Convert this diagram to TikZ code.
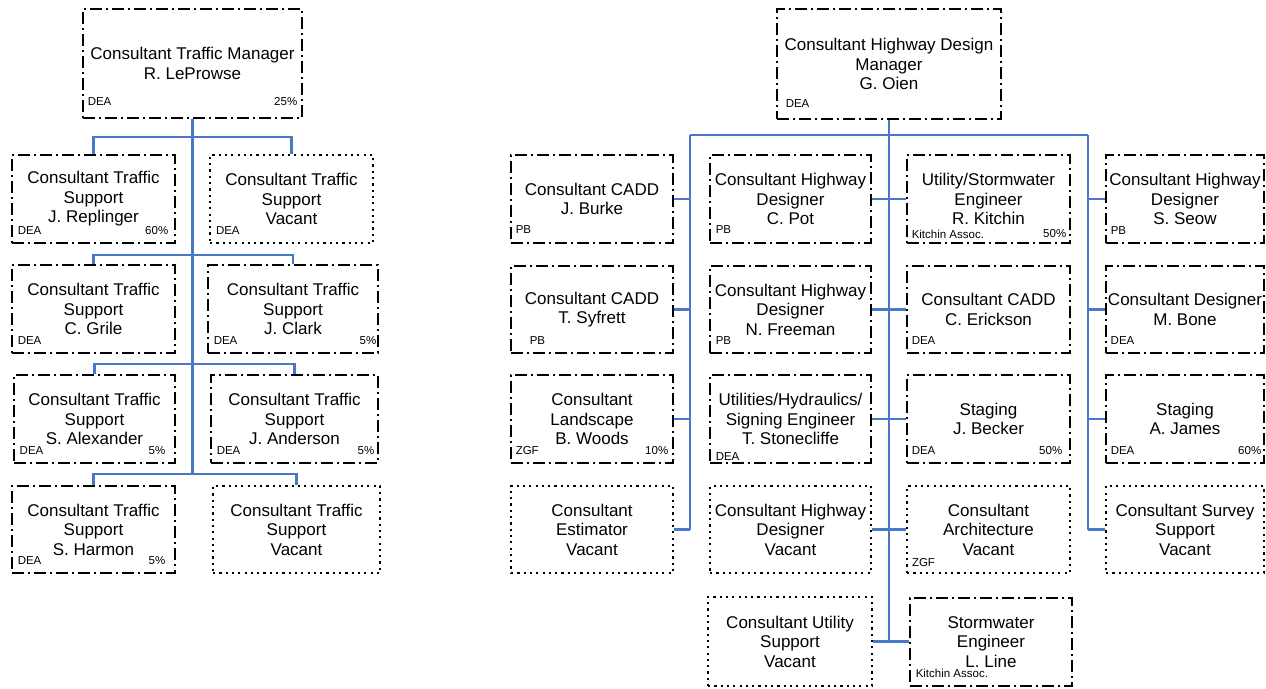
\documentclass[tikz,border=0pt]{standalone}
\usepackage{fontspec}
\setmainfont{Liberation Sans}
\usetikzlibrary{calc}
\definecolor{linkblue}{HTML}{4A78C8}

% box: style, name, x1, y1, x2, y2, text  (y grows downwards)
\newcommand\orgbox[7]{\node[#1, minimum width={(#5-#3)*1pt}, minimum height={(#6-#4)*1pt}] (#2) at ({(#3+#5)/2},{(#4+#6)/2}) {#7};}
% small company / share tags in the lower corners: box, inset, height, text
\newcommand\tagleft[4]{\node[tag, anchor=west] (#1-l) at ($(#1.south west)+(#2,-#3)$) {#4};}
\newcommand\tagright[4]{\node[tag, anchor=east] (#1-r) at ($(#1.south east)+(-#2,-#3)$) {#4};}

\begin{document}
\begin{tikzpicture}[x=1pt,y=-1pt,
  post/.style={draw=black, line width=2.9pt, dash pattern=on 12pt off 4pt on 2pt off 4pt,
    align=center, inner sep=2pt, font=\fontsize{17}{19.5}\selectfont},
  vacant/.style={post, line width=2.4pt, dash pattern=on 2.2pt off 4.1pt},
  conn/.style={draw=linkblue, line width=2.8pt},
  tag/.style={inner sep=0pt, text height=8.2pt, text depth=0pt, font=\fontsize{11.5}{13}\selectfont}
]
\useasboundingbox (0,0) rectangle (1266,688);

% ---------------- traffic team ----------------
\orgbox{post}{LM}{83}{9}{302}{118}{Consultant Traffic Manager\\R. LeProwse}
\orgbox{post}{L1a}{12}{155}{175}{243}{Consultant Traffic\\Support\\J. Replinger}
\orgbox{vacant}{L1b}{210}{155}{373}{243}{Consultant Traffic\\Support\\Vacant}
\orgbox{post}{L2a}{12}{265}{175}{353}{Consultant Traffic\\Support\\C. Grile}
\orgbox{post}{L2b}{208}{265}{378}{353}{Consultant Traffic\\Support\\J. Clark}
\orgbox{post}{L3a}{14}{375}{175}{463}{Consultant Traffic\\Support\\S. Alexander}
\orgbox{post}{L3b}{211}{375}{378}{463}{Consultant Traffic\\Support\\J. Anderson}
\orgbox{post}{L4a}{12}{486}{175}{573}{Consultant Traffic\\Support\\S. Harmon}
\orgbox{vacant}{L4b}{213}{486}{380}{573}{Consultant Traffic\\Support\\Vacant}

\tagleft{LM}{6}{18}{DEA}\tagright{LM}{6}{18}{25\%}
\tagleft{L1a}{7}{14}{DEA}\tagright{L1a}{8}{14}{60\%}
\tagleft{L1b}{7}{14}{DEA}
\tagleft{L2a}{7}{14}{DEA}
\tagleft{L2b}{7}{14}{DEA}\tagright{L2b}{3}{14}{5\%}
\tagleft{L3a}{7}{14}{DEA}\tagright{L3a}{11}{14}{5\%}
\tagleft{L3b}{7}{14}{DEA}\tagright{L3b}{5}{14}{5\%}
\tagleft{L4a}{7}{14}{DEA}\tagright{L4a}{11}{14}{5\%}

\coordinate (j1) at (192,137);
\coordinate (j2) at (192,255);
\coordinate (j3) at (192,364);
\coordinate (j4) at (192,474);
\draw[conn] (LM.south) -- (LM.south |- j4);
\draw[conn] (L1a.north) |- (j1) -| (L1b.north);
\draw[conn] (L2a.north) |- (j2) -| (L2b.north);
\draw[conn] (L3a.north) |- (j3) -| (L3b.north);
\draw[conn] (L4a.north) |- (j4) -| (L4b.north);

% ---------------- highway design team ----------------
\orgbox{post}{RM}{777}{9}{1001}{119}{Consultant Highway Design\\Manager\\G. Oien}

\orgbox{post}{C1r1}{511}{155}{673}{243}{Consultant CADD\\J. Burke}
\orgbox{post}{C1r2}{511}{266}{673}{353}{Consultant CADD\\T. Syfrett}
\orgbox{post}{C1r3}{511}{375}{673}{463}{Consultant\\Landscape\\B. Woods}
\orgbox{vacant}{C1r4}{511}{486}{673}{573}{Consultant\\Estimator\\Vacant}

\orgbox{post}{C2r1}{710}{155}{871}{243}{Consultant Highway\\Designer\\C. Pot}
\orgbox{post}{C2r2}{710}{266}{871}{353}{Consultant Highway\\Designer\\N. Freeman}
\orgbox{post}{C2r3}{710}{375}{871}{463}{Utilities/Hydraulics/\\Signing Engineer\\T. Stonecliffe}
\orgbox{vacant}{C2r4}{710}{486}{871}{573}{Consultant Highway\\Designer\\Vacant}

\orgbox{post}{C3r1}{907}{155}{1070}{243}{Utility/Stormwater\\Engineer\\R. Kitchin}
\orgbox{post}{C3r2}{907}{266}{1070}{353}{Consultant CADD\\C. Erickson}
\orgbox{post}{C3r3}{907}{375}{1070}{463}{Staging\\J. Becker}
\orgbox{vacant}{C3r4}{907}{486}{1070}{573}{Consultant\\Architecture\\Vacant}

\orgbox{post}{C4r1}{1106}{155}{1264}{243}{Consultant Highway\\Designer\\S. Seow}
\orgbox{post}{C4r2}{1106}{266}{1264}{353}{Consultant Designer\\M. Bone}
\orgbox{post}{C4r3}{1106}{375}{1264}{463}{Staging\\A. James}
\orgbox{vacant}{C4r4}{1106}{486}{1264}{573}{Consultant Survey\\Support\\Vacant}

\orgbox{vacant}{B1}{708}{597}{872}{686}{Consultant Utility\\Support\\Vacant}
\orgbox{post}{B2}{910}{598}{1072}{686}{Stormwater\\Engineer\\L. Line}

\tagleft{RM}{10}{17}{DEA}
\tagleft{C1r1}{6}{15}{PB}
\tagleft{C1r2}{20}{14}{PB}
\tagleft{C1r3}{6}{14}{ZGF}\tagright{C1r3}{6}{14}{10\%}
\tagleft{C2r1}{7}{15}{PB}
\tagleft{C2r2}{7}{14}{PB}
\tagleft{C2r3}{7}{8}{DEA}
\tagleft{C3r1}{6}{10}{Kitchin Assoc.}\tagright{C3r1}{5}{11}{50\%}
\tagleft{C3r2}{6}{14}{DEA}
\tagleft{C3r3}{6}{14}{DEA}\tagright{C3r3}{9}{14}{50\%}
\tagleft{C3r4}{6}{12}{ZGF}
\tagleft{C4r1}{6}{14}{PB}
\tagleft{C4r2}{6}{14}{DEA}
\tagleft{C4r3}{6}{14}{DEA}\tagright{C4r3}{4}{14}{60\%}
\tagleft{B2}{7}{14}{Kitchin Assoc.}

\coordinate (lt) at (690,135);
\coordinate (rt) at (1088,135);
\draw[conn] (lt) -- (rt);
\draw[conn] (RM.south) -- (RM.south |- B1.east);
\draw[conn] (lt) -- (lt |- C1r4.east);
\draw[conn] (rt) -- (rt |- C4r4.west);
\foreach \r in {r1,r2,r3,r4}{
  \draw[conn] (C1\r.east) -- (C1\r.east -| lt);
  \draw[conn] (C2\r.east) -- (C2\r.east -| RM.south);
  \draw[conn] (C3\r.west) -- (C3\r.west -| RM.south);
  \draw[conn] (C4\r.west) -- (C4\r.west -| rt);
}
\draw[conn] (B1.east) -- (B1.east -| B2.west);
\end{tikzpicture}
\end{document}
